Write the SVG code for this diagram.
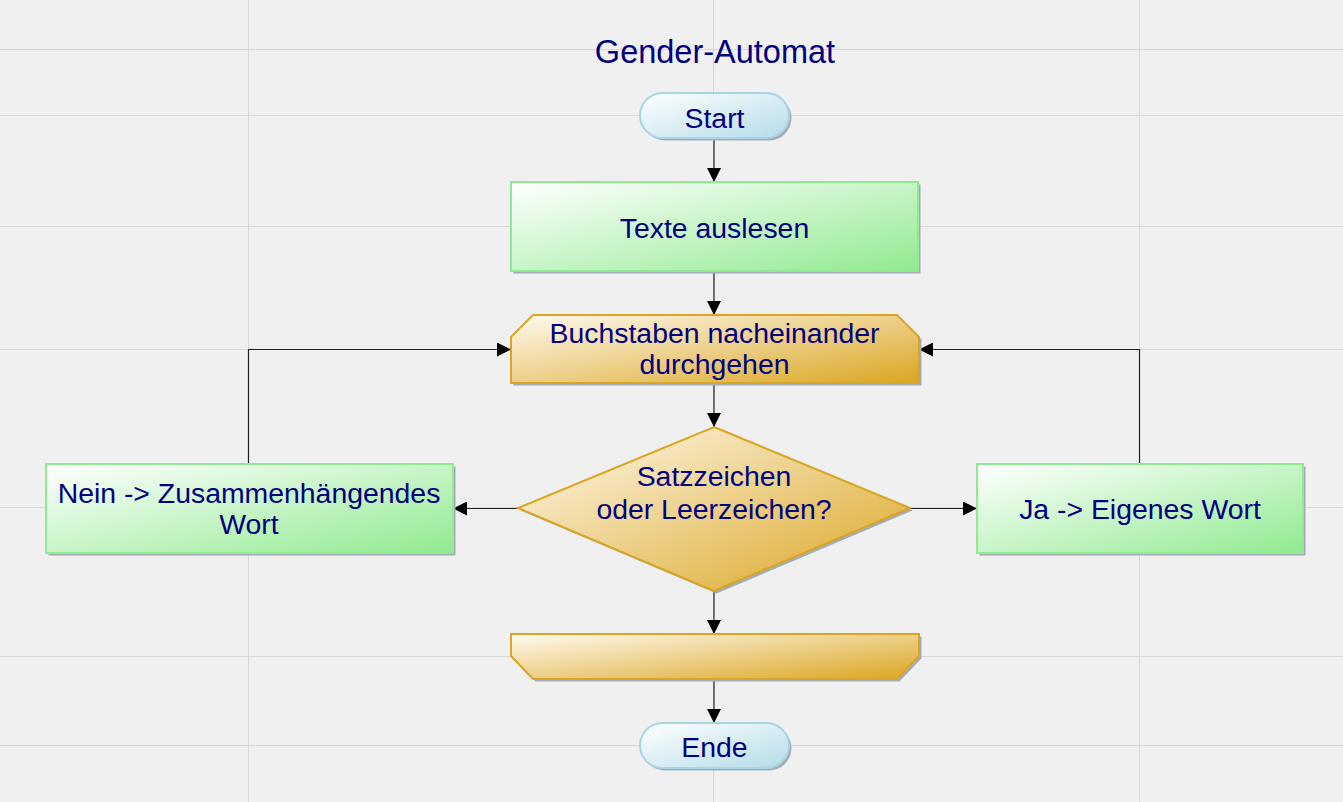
<svg xmlns="http://www.w3.org/2000/svg" width="1343" height="802" viewBox="0 0 1343 802">
<defs>
<linearGradient id="gGreen" x1="0" y1="0" x2="1" y2="1"><stop offset="0" stop-color="#ffffff"/><stop offset="1" stop-color="#90ea90"/></linearGradient>
<linearGradient id="gGold" x1="0" y1="0" x2="1" y2="1"><stop offset="0" stop-color="#fffaf0"/><stop offset="1" stop-color="#daa520"/></linearGradient>
<linearGradient id="gBlue" x1="0" y1="0" x2="1" y2="1"><stop offset="0" stop-color="#ffffff"/><stop offset="1" stop-color="#b4dce8"/></linearGradient>
<marker id="arr" viewBox="0 0 14 14" refX="14" refY="7" markerWidth="14" markerHeight="14" markerUnits="userSpaceOnUse" orient="auto"><path d="M0,0 L14,7 L0,14 Z" fill="#000"/></marker>
</defs>
<style>
.grid line{stroke:#d8d8d8;stroke-width:1}
.t{font-family:"Liberation Sans",Arial,sans-serif;font-size:28.4px;fill:#000080;text-anchor:middle}
.title{font-size:32.5px}
.shadow{fill:#a4acb8}
.green{fill:url(#gGreen);stroke:#90ea90;stroke-width:2}
.gold{fill:url(#gGold);stroke:#daa520;stroke-width:2}
.blue{fill:url(#gBlue);stroke:#a8d4e4;stroke-width:2}
.conn path{fill:none;stroke:#202020;stroke-width:1.2}
</style>
<rect width="1343" height="802" fill="#f0f0f0"/>
<g class="grid">
<line x1="248.5" y1="0" x2="248.5" y2="802"/>
<line x1="713.5" y1="0" x2="713.5" y2="802"/>
<line x1="1139.5" y1="0" x2="1139.5" y2="802"/>
<line x1="0" y1="49.5" x2="1343" y2="49.5"/>
<line x1="0" y1="115.5" x2="1343" y2="115.5"/>
<line x1="0" y1="226.5" x2="1343" y2="226.5"/>
<line x1="0" y1="349.5" x2="1343" y2="349.5"/>
<line x1="0" y1="507.5" x2="1343" y2="507.5"/>
<line x1="0" y1="656.5" x2="1343" y2="656.5"/>
<line x1="0" y1="745.5" x2="1343" y2="745.5"/>
</g>
<text class="t title" x="715" y="62.5">Gender-Automat</text>
<g class="conn">
<path d="M714,139 V182" marker-end="url(#arr)"/>
<path d="M714,272 V315" marker-end="url(#arr)"/>
<path d="M714,384 V427" marker-end="url(#arr)"/>
<path d="M714,591 V634" marker-end="url(#arr)"/>
<path d="M714,680 V723" marker-end="url(#arr)"/>
<path d="M518,508.5 H453" marker-end="url(#arr)"/>
<path d="M910,508.5 H977" marker-end="url(#arr)"/>
<path d="M248.5,464 V349.5 H511" marker-end="url(#arr)"/>
<path d="M1139.5,464 V349.5 H919" marker-end="url(#arr)"/>
</g>
<g id="start">
<rect class="shadow" x="642.5" y="95.5" width="149" height="45" rx="22.5"/>
<rect class="blue" x="640" y="93" width="149" height="45" rx="22.5"/>
<text class="t" x="714.5" y="127.5">Start</text>
</g>
<g id="texte">
<rect class="shadow" x="513.5" y="184.5" width="407" height="89"/>
<rect class="green" x="511" y="182" width="407" height="89"/>
<text class="t" x="714.5" y="237.5">Texte auslesen</text>
</g>
<g id="buchstaben">
<path class="shadow" d="M535.5,317.5 H899.5 L921.5,339.5 V385.5 H513.5 V339.5 Z"/>
<path class="gold" d="M533,315 H897 L919,337 V383 H511 V337 Z"/>
<text class="t" x="714.5" y="342.5">Buchstaben nacheinander</text>
<text class="t" x="714.5" y="374">durchgehen</text>
</g>
<g id="entscheidung">
<path class="shadow" d="M716.5,429.5 L912.5,510.5 L716.5,593.5 L520.5,510.5 Z"/>
<path class="gold" d="M714,427 L910,508 L714,591 L518,508 Z"/>
<text class="t" x="714" y="486">Satzzeichen</text>
<text class="t" x="714" y="518.5">oder Leerzeichen?</text>
</g>
<g id="nein">
<rect class="shadow" x="48.5" y="466.5" width="407" height="89"/>
<rect class="green" x="46" y="464" width="407" height="89"/>
<text class="t" x="249" y="502.5">Nein -&gt; Zusammenhängendes</text>
<text class="t" x="249" y="533.5">Wort</text>
</g>
<g id="ja">
<rect class="shadow" x="979.5" y="466.5" width="326" height="89"/>
<rect class="green" x="977" y="464" width="326" height="89"/>
<text class="t" x="1140" y="519">Ja -&gt; Eigenes Wort</text>
</g>
<g id="schleifenende">
<path class="shadow" d="M513.5,636.5 H921.5 V658.5 L899.5,681.5 H535.5 L513.5,658.5 Z"/>
<path class="gold" d="M511,634 H919 V656 L897,679 H533 L511,656 Z"/>
</g>
<g id="ende">
<rect class="shadow" x="642.5" y="725.5" width="149" height="45" rx="22.5"/>
<rect class="blue" x="640" y="723" width="149" height="45" rx="22.5"/>
<text class="t" x="714.5" y="756.5">Ende</text>
</g>
</svg>
